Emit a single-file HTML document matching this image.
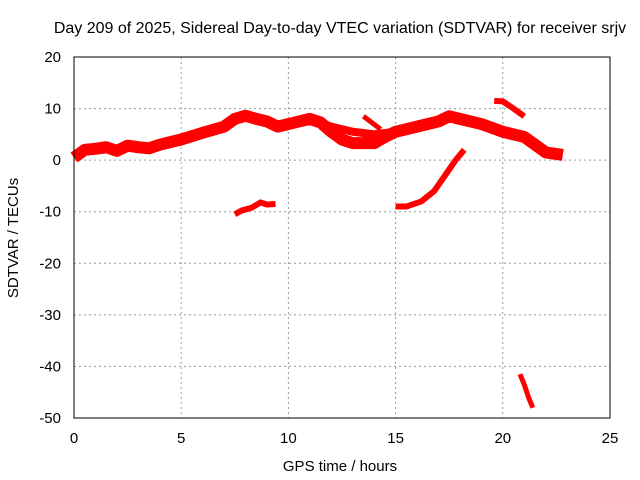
<!DOCTYPE html>
<html><head><meta charset="utf-8"><style>
body{margin:0;background:#fff;}
svg{display:block;font-family:"Liberation Sans",sans-serif;}
</style></head><body>
<svg id="chart" width="640" height="480">
<text x="340" y="33" font-size="16" text-anchor="middle">Day 209 of 2025, Sidereal Day-to-day VTEC variation (SDTVAR) for receiver srjv</text>
<text x="340" y="471" font-size="15" text-anchor="middle">GPS time / hours</text>
<text transform="translate(18,238) rotate(-90)" font-size="15" text-anchor="middle">SDTVAR / TECUs</text>
<g id="grid"></g><g id="series"></g>
<rect x="74" y="57" width="536" height="361" fill="none" stroke="#000" stroke-width="1"/>
</svg>
<script>
const xTicks=[0,5,10,15,20,25];
const yTicks=[20,10,0,-10,-20,-30,-40,-50];
const mainBand=[[0,0.5],[0.5,2],[1,2.2],[1.5,2.5],[2,1.8],[2.5,2.8],[3,2.5],[3.5,2.3],[4,3],[5,4],[6,5.3],[7,6.5],[7.5,8],[8,8.6],[8.5,8],[9,7.5],[9.5,6.5],[10,7],[10.5,7.5],[11,8],[11.5,7.3],[12,5.5],[12.5,4],[13,3.3],[14,3.3],[14.5,4.5],[15,5.5],[16,6.5],[17,7.5],[17.5,8.5],[18,8],[19,7],[20,5.5],[21,4.5],[21.5,3],[22,1.5],[22.8,1]];
const upperBranch=[[11.3,7.5],[12,6.5],[13,5.5],[14,5],[15,5.5]];
const shortStub=[[13.5,8.5],[14.3,6]];
const dipA=[[7.5,-10.5],[7.8,-9.8],[8.3,-9.2],[8.7,-8.2],[9,-8.6],[9.4,-8.5]];
const riseB=[[15,-9],[15.5,-9],[16.2,-8],[16.8,-6],[17.3,-3],[17.8,0],[18.2,2]];
const highC=[[19.6,11.5],[20,11.4],[20.5,10],[21,8.5]];
const lowD=[[20.8,-41.5],[21,-43.5],[21.2,-46],[21.4,-48]];
const allSeries=[mainBand,upperBranch,shortStub,dipA,riseB,highC,lowD];
const widths=[12,8,5,6,6,6,5];
const X=v=>74+v*536/25, Y=v=>418-(v+50)*361/70;
const ns="http://www.w3.org/2000/svg", svg=document.getElementById('chart');
const g=document.getElementById('grid'), s=document.getElementById('series');
xTicks.forEach(t=>{
 if(t>0&&t<25){const l=document.createElementNS(ns,'line');l.setAttribute('x1',X(t));l.setAttribute('x2',X(t));l.setAttribute('y1',57);l.setAttribute('y2',418);l.setAttribute('stroke','#999');l.setAttribute('stroke-dasharray','2,3');
 
 g.appendChild(l);}
 const tx=document.createElementNS(ns,'text');tx.setAttribute('x',X(t));tx.setAttribute('y',443);tx.setAttribute('font-size','15');tx.setAttribute('text-anchor','middle');tx.textContent=t;
 
 svg.appendChild(tx);
});
yTicks.forEach(t=>{
 if(t<20&&t>-50){const l=document.createElementNS(ns,'line');l.setAttribute('x1',74);l.setAttribute('x2',610);l.setAttribute('y1',Y(t));l.setAttribute('y2',Y(t));l.setAttribute('stroke','#999');l.setAttribute('stroke-dasharray','2,3');
 
 g.appendChild(l);}
 const tx=document.createElementNS(ns,'text');tx.setAttribute('x',61);tx.setAttribute('y',Y(t)+5);tx.setAttribute('font-size','15');tx.setAttribute('text-anchor','end');tx.textContent=t;
 
 svg.appendChild(tx);
});
allSeries.forEach((ser,i)=>{
 const p=document.createElementNS(ns,'polyline');
 p.setAttribute('points',ser.map(d=>X(d[0])+','+Y(d[1])).join(' '));
 p.setAttribute('fill','none');p.setAttribute('stroke','#f00');p.setAttribute('stroke-width',widths[i]);p.setAttribute('stroke-linejoin','round');
 
 
 s.appendChild(p);
});
</script>
</body></html>
